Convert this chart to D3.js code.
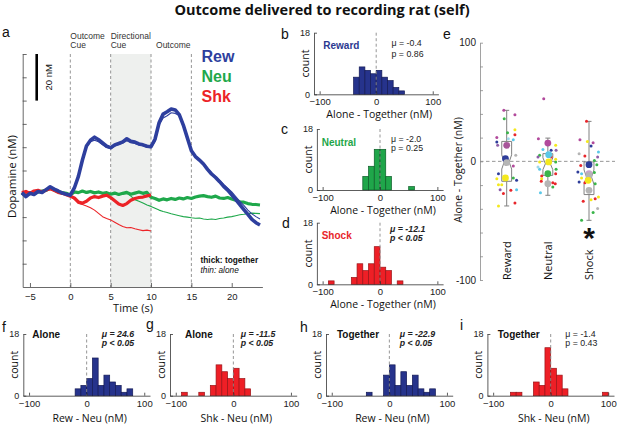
<!DOCTYPE html>
<html><head><meta charset="utf-8">
<script src="https://cdn.jsdelivr.net/npm/d3@7"></script>
<style>body{margin:0;background:#fff}svg{display:block}</style>
</head><body><svg id="c" width="617" height="425"></svg>
<script>
// ================= DATA =================
const titleText = "Outcome delivered to recording rat (self)";
// panel a : time (s) and dopamine (nM)
const timeS = [-6,-5.5,-5,-4.5,-4,-3.5,-3,-2.5,-2,-1.5,-1,-0.5,0,0.5,1,1.5,2,2.5,3,3.5,4,4.5,5,5.5,6,6.5,7,7.5,8,8.5,9,9.5,10,10.5,11,11.5,12,12.5,13,13.5,14,14.5,15,15.5,16,16.5,17,17.5,18,18.5,19,19.5,20,20.5,21,21.5,22,22.5,23,23.5];
const rewTogether = [0.5,-1.2,0.2,-0.3,1.0,0.6,1.8,3.0,2.0,1.2,0.3,-0.2,-0.6,2.5,7.5,14.5,20.5,23.0,24.3,23.2,21.8,20.4,19.8,21.0,21.6,22.3,23.6,22.5,22.2,21.4,21.0,20.4,20.2,23.5,30.5,34.2,35.2,36.4,36.0,34.0,29.5,24.0,18.5,16.0,14.5,12.8,10.5,8.5,7.0,5.2,3.2,1.6,-0.4,-2.5,-4.6,-6.8,-8.8,-11.0,-12.4,-13.4];
const rewAlone    = [0.2,-0.8,0.5,-0.6,0.8,1.0,1.5,2.6,2.2,1.0,0.5,0.0,-0.8,2.0,7.0,13.8,20.0,22.4,23.0,22.3,21.0,20.0,19.3,20.4,21.2,21.8,22.8,22.0,21.6,21.0,20.6,20.0,19.8,22.5,29.5,32.5,33.5,34.8,34.5,33.6,29.0,23.5,18.8,16.4,14.8,13.0,11.0,9.0,7.5,5.8,4.0,2.4,0.8,-1.2,-3.2,-5.0,-7.0,-8.6,-9.8,-10.8];
const neuTogether = [0.3,-0.8,0.5,0.0,0.8,1.2,1.5,2.4,1.6,0.8,0.5,0.2,-0.5,0.8,0.5,1.2,0.6,1.0,0.4,0.8,0.2,0.5,-0.2,0.3,-0.3,0.2,0.6,-0.2,0.3,0.8,0.2,0.6,-1.5,-2.0,-2.8,-2.2,-2.6,-2.0,-2.4,-1.8,-2.2,-1.6,-2.0,-1.4,-1.0,-0.8,-1.2,-1.5,-1.0,-1.8,-2.0,-1.6,-2.2,-2.8,-3.4,-3.6,-4.2,-4.5,-4.6,-4.8];
const neuAlone    = [0.6,-0.5,0.2,0.3,0.5,1.0,1.8,2.0,1.3,1.0,0.2,0.4,-0.3,0.5,0.8,0.9,0.3,0.7,0.6,0.5,0.0,0.3,0.0,0.1,-0.5,0.0,0.2,-1.0,-2.5,-3.2,-4.0,-4.8,-5.4,-6.2,-7.0,-7.6,-8.0,-8.6,-9.0,-9.4,-9.8,-10.0,-10.3,-10.5,-10.4,-10.8,-11.0,-10.8,-11.0,-10.6,-10.4,-10.0,-9.8,-9.4,-9.0,-8.8,-8.5,-8.3,-8.4,-8.5];
const shkTogether = [0.5,1.0,0.2,1.2,1.5,0.8,1.6,2.2,1.5,0.6,0.2,-0.4,-1.0,-1.8,-3.5,-4.0,-3.2,-1.8,-1.2,-1.6,-1.0,-0.6,-1.6,-3.0,-4.4,-5.0,-4.2,-2.8,-2.0,-1.6,-1.4,-0.9,-0.5];
const shkAlone    = [0.8,0.2,0.6,1.0,1.4,1.0,1.2,2.0,1.2,0.8,0.4,0.0,-1.2,-2.4,-4.2,-4.6,-5.2,-6.0,-7.0,-8.4,-9.8,-10.6,-11.2,-12.2,-13.2,-14.0,-14.6,-14.5,-15.0,-15.4,-15.8,-15.6,-16.0];
const eventTimes = [0, 5, 10, 15];
const eventLabels = [["Outcome","Cue"],["Directional","Cue"],["","Outcome"]];
const shadeWindow = [5, 10];
const timeTicks = [-5, 0, 5, 10, 15, 20];
const dopamineTicks = [-30,-20,-10,0,10,20,30,40,50,60];
const legendNames = ["Rew", "Neu", "Shk"];

// histograms (bin width 10 nM): first bin left edge + counts
const binWidth = 10;
const histKeys   = ["b","c","d","f","g","h","i"];
const histStarts = [-40, -30, -90, -20, -90, -40, -70];
const histCounts = [
  [5,8,7,6,7,5,4,2,1],
  [4,7,12,12,4,0,0,0,1],
  [1,0,0,0,2,6,4,6,11,5,4,0,1],
  [2,3,5,11,3,6,4,3,1,2],
  [1,0,0,1,0,3,9,7,5,8,5,2],
  [1,0,0,6,9,3,7,3,6,2,1,2],
  [1,1,0,0,4,3,14,8,6,2,0,0,0,0,0,0,1]
];
const histLabels = ["Reward","Neutral","Shock","Alone","Alone","Together","Together"];
const histMu     = ["μ = -0.4","μ = -2.0","μ = -12.1","μ = 24.6","μ = -11.5","μ = -22.9","μ = -1.4"];
const histP      = ["p = 0.86","p = 0.25","p < 0.05","p < 0.05","p < 0.05","p < 0.05","p = 0.43"];
const histSig    = [false,false,true,true,true,true,false];
const histXTitle = ["Alone - Together (nM)","Alone - Together (nM)","Alone - Together (nM)","Rew - Neu (nM)","Shk - Neu (nM)","Rew - Neu (nM)","Shk - Neu (nM)"];
const histTheme  = ["rew","neu","shk","rew","shk","rew","shk"];
const histXTicks = [-100, 0, 100];
const countTicks = [0, 18];

// panel e
const eCategories = ["Reward","Neutral","Shock"];
const eTicks = [-100,-80,-60,-40,-20,0,20,40,60,80,100];
const eTickLabels = [-100, 0, 100];
const boxQ1  = [-16.8, -11.8, -28.0];
const boxMed = [-0.5, -2.0, -13.2];
const boxQ3  = [16.8, 6.5, -0.5];
const whiskLo = [-37.6, -28.6, -49.7];
const whiskHi = [43.0, 19.6, 33.7];
const notchHalf = [6, 5, 6];
// dots: [category index, jitter (fraction of category spacing), value, colour key]
const eDots = [
 [0,-0.07,43.0,"M"],[0,0.20,39.3,"M"],[0,-0.06,36.0,"G"],[0,0.20,26.7,"Y"],[0,0.02,24.2,"G"],[0,0.20,22.5,"R"],
 [0,-0.24,20.0,"M"],[0,0.04,19.1,"L"],[0,-0.24,16.3,"B"],[0,0.16,18.3,"C"],[0,-0.22,13.5,"P"],[0,0.22,5.1,"K"],
 [0,0.16,-4.0,"M"],[0,-0.20,-10.4,"B"],[0,-0.24,-14.6,"Y"],[0,0.24,-16.0,"B"],[0,0.16,-14.0,"G"],[0,-0.20,-19.7,"Y"],
 [0,-0.12,-19.7,"Y"],[0,-0.16,-23.9,"P"],[0,-0.08,-27.2,"R"],[0,0.10,-24.4,"R"],[0,0.24,-23.9,"C"],[0,-0.20,-37.6,"Y"],[0,0.20,-35.1,"R"],
 [1,-0.10,52.8,"M"],[1,-0.23,19.1,"M"],[1,-0.12,9.9,"C"],[1,0.19,13.5,"Y"],[1,0.20,9.3,"P"],[1,-0.20,5.1,"G"],
 [1,0.08,3.6,"R"],[1,-0.20,-0.6,"Y"],[1,0.19,-0.6,"G"],[1,-0.24,-4.8,"L"],[1,-0.20,-6.7,"C"],[1,0.20,-6.7,"G"],
 [1,-0.15,-12.4,"R"],[1,-0.15,-14.6,"Y"],[1,0.19,-10.4,"R"],[1,-0.16,-16.8,"R"],[1,0.12,-18.0,"R"],[1,0.18,-18.8,"R"],
 [1,0.12,-21.6,"G"],[1,-0.18,-26.4,"C"],[1,-0.24,3.6,"P"],[1,0.08,9.3,"B"],[1,0.19,1.7,"Y"],
 [2,-0.06,33.7,"R"],[2,-0.22,18.3,"M"],[2,-0.04,16.8,"Y"],[2,0.10,15.7,"M"],[2,0.05,12.9,"B"],[2,0.23,7.8,"C"],
 [2,-0.24,6.5,"K"],[2,-0.10,4.5,"R"],[2,0.21,3.6,"P"],[2,0.13,0.8,"G"],[2,0.19,-2.8,"G"],[2,-0.20,-3.4,"R"],
 [2,-0.27,-9.0,"B"],[2,-0.18,-10.4,"C"],[2,0.13,-9.5,"G"],[2,-0.24,-17.4,"B"],[2,-0.18,-14.0,"Y"],[2,0.15,-18.8,"G"],
 [2,-0.10,-18.0,"R"],[2,0.23,-30.0,"Y"],[2,0.15,-31.5,"R"],[2,-0.14,-33.7,"R"],[2,0.05,-32.3,"Y"],[2,0.21,-39.8,"K"],
 [2,0.10,-43.2,"G"],[2,-0.18,-49.7,"G"]
];
const eMeans = [
 [0,0.00,13.5,"M2"],[0,-0.03,2.2,"B"],[0,0.00,-1.1,"K"],[0,-0.03,-14.0,"Y"],
 [1,0.00,15.4,"M"],[1,0.02,5.6,"C"],[1,0.02,-0.5,"Y"],[1,0.00,-10.4,"G"],[1,0.00,-18.8,"K"],
 [2,0.00,-2.8,"B"],[2,0.00,-10.4,"P2"],[2,0.00,-12.0,"K"],[2,-0.02,-16.0,"Y"],[2,0.00,-24.4,"K"]
];

// ================= STYLE / LAYOUT =================
const SANS = "'Liberation Sans', Arial, sans-serif";
const HUM = "'Open Sans', 'Noto Sans', sans-serif";
const col = {rew:"#2e3f9e", neu:"#1fa84b", shk:"#ec2327"};
const barFill = {rew:"#26338c", neu:"#1fa64a", shk:"#ee1f26"};
const barStroke = {rew:"#141a55", neu:"#0c5c28", shk:"#9a1418"};
const labelCol = {rew:"#2b3990", neu:"#1fa64a", shk:"#e8262b"};
const dotCol = {R:"#e8262b",B:"#2e3d9a",G:"#3ab54a",M:"#b24a9c",M2:"#a8569a",Y:"#f4e81c",C:"#5bc8e8",L:"#9fd8ea",P:"#8e5fa8",P2:"#c7a3cc",K:"#b5b5b5"};
const histLayout = {
 b:{l:314,r:438.4,t:32.7,b:94.3,row:0,lx:323.3,ly:49,sx:391.5,sy:[46,57]},
 c:{l:316.9,r:443.1,t:129,b:190,row:0,lx:321.7,ly:145.5,sx:391,sy:[141.5,151]},
 d:{l:316.9,r:443.1,t:222.7,b:284.3,row:0,lx:321.7,ly:238.5,sx:390,sy:[231.5,241]},
 f:{l:23.3,r:150,t:334,b:395.7,row:1,lx:32.3,ly:338,sx:101.7,sy:[336.5,346]},
 g:{l:170,r:296.7,t:334,b:395.7,row:1,lx:185,ly:338,sx:240.7,sy:[336.5,346]},
 h:{l:326,r:452.7,t:334,b:395.7,row:1,lx:337,ly:338,sx:399.7,sy:[336.5,346]},
 i:{l:487.4,r:614,t:334,b:395.7,row:1,lx:497.7,ly:338,sx:565.3,sy:[336.5,346]}
};
const panelLetters = [["a",2,37],["b",281,38.5],["c",281,133.5],["d",282,228],["e",443,39],["f",2,331.5],["g",146,329],["h",300,331.5],["i",460,330]];

const svg = d3.select("#c");
function styleAxis(g, color){
  g.selectAll("path,line").attr("stroke", color).attr("stroke-width", 0.8);
  g.selectAll("text").attr("fill", "#222");
}

// title
svg.append("text").attr("x", 322).attr("y", 15).attr("text-anchor","middle")
  .attr("font-family", HUM).attr("font-weight","bold").attr("font-size", 14.5).attr("fill","#111").text(titleText);

// panel letters
svg.selectAll("text.pl").data(panelLetters).join("text").attr("class","pl")
  .attr("x", d=>d[1]).attr("y", d=>d[2]).attr("font-family", SANS).attr("font-size", 14).attr("fill","#111").text(d=>d[0]);

// ================= PANEL A =================
const ax = d3.scaleLinear().domain([-5.9, 23.8]).range([22.7, 262.4]);
const ay = d3.scaleLinear().domain([-40, 60]).range([287, 54]);
const ga = svg.append("g");
ga.append("rect").attr("x", ax(shadeWindow[0])).attr("width", ax(shadeWindow[1]) - ax(shadeWindow[0]))
  .attr("y", ay(60)).attr("height", ay(-40) - ay(60)).attr("fill", "#eef0ee");
ga.selectAll("line.ev").data(eventTimes).join("line").attr("class","ev")
  .attr("x1", d=>ax(d)).attr("x2", d=>ax(d)).attr("y1", ay(60)).attr("y2", ay(-40))
  .attr("stroke", "#8a8a8a").attr("stroke-width", 0.9).attr("stroke-dasharray", "3,2.5");
eventLabels.forEach((lab, i) => {
  lab.forEach((s, j) => {
    if (!s) return;
    ga.append("text").attr("x", ax(eventTimes[i]) + (i===2 ? 5 : 0)).attr("y", 39 + j*8.5)
      .attr("font-family", SANS).attr("font-size", 8.5).attr("fill", "#333").text(s);
  });
});
const yAxA = ga.append("g").attr("transform", `translate(${ax.range()[0]},0)`)
  .call(d3.axisLeft(ay).tickValues(dopamineTicks).tickSize(-4).tickSizeOuter(0).tickFormat(""));
styleAxis(yAxA, "#444");
const xAxA = ga.append("g").attr("transform", `translate(0,${ay(-40)})`)
  .call(d3.axisBottom(ax).tickValues(timeTicks).tickSize(-4).tickSizeOuter(0).tickPadding(6));
styleAxis(xAxA, "#444");
xAxA.selectAll("text").attr("font-family", SANS).attr("font-size", 9.5);

const lineA = d3.line().x((d,i)=>ax(timeS[i])).y(d=>ay(d));
const traces = [
  [neuTogether, col.neu, 3.2], [neuAlone, col.neu, 1.1],
  [shkTogether, col.shk, 3.2], [shkAlone, col.shk, 1.1],
  [rewTogether, col.rew, 3.6], [rewAlone, col.rew, 1.1]
];
traces.forEach(t => {
  ga.append("path").datum(t[0]).attr("d", lineA).attr("fill","none")
    .attr("stroke", t[1]).attr("stroke-width", t[2]).attr("stroke-linejoin","round");
});
// scale bar 20 nM
ga.append("line").attr("x1", 36.7).attr("x2", 36.7).attr("y1", ay(60)).attr("y2", ay(40))
  .attr("stroke","#000").attr("stroke-width", 2.6);
ga.append("text").attr("transform", `translate(52,${(ay(60)+ay(40))/2}) rotate(-90)`).attr("text-anchor","middle")
  .attr("font-family", SANS).attr("font-size", 9.5).attr("fill","#111").text("20 nM");
// legend
legendNames.forEach((n, i) => {
  ga.append("text").attr("x", 201.5).attr("y", 62.3 + i*20).attr("font-family", SANS).attr("font-weight","bold")
    .attr("font-size", 16).attr("fill", [col.rew, col.neu, col.shk][i]).text(n);
});
ga.append("text").attr("x", 200.5).attr("y", 263).attr("font-family", SANS).attr("font-weight","bold")
  .attr("font-size", 8.3).attr("fill","#111").text("thick: together");
ga.append("text").attr("x", 200.5).attr("y", 273).attr("font-family", SANS).attr("font-style","italic")
  .attr("font-size", 8.3).attr("fill","#111").text("thin: alone");
ga.append("text").attr("transform", `translate(16,${(ay(60)+ay(-40))/2 + 6}) rotate(-90)`).attr("text-anchor","middle")
  .attr("font-family", HUM).attr("font-size", 11.5).attr("fill","#111").text("Dopamine (nM)");
ga.append("text").attr("x", 133).attr("y", 312).attr("text-anchor","middle")
  .attr("font-family", HUM).attr("font-size", 11).attr("fill","#111").text("Time (s)");

// ================= HISTOGRAMS =================
histKeys.forEach((k, hi) => {
  const L = histLayout[k];
  const theme = histTheme[hi];
  const x = d3.scaleLinear().domain([-110, 110]).range([L.l, L.r]);
  const y = d3.scaleLinear().domain([0, 18]).range([L.b, L.t]);
  const g = svg.append("g");
  const bins = histCounts[hi].map((c, i) => ({x0: histStarts[hi] + i*binWidth, c}));
  g.selectAll("rect").data(bins.filter(d=>d.c>0)).join("rect")
    .attr("x", d=>x(d.x0)).attr("width", d=>x(d.x0+binWidth)-x(d.x0))
    .attr("y", d=>y(d.c)).attr("height", d=>y(0)-y(d.c))
    .attr("fill", barFill[theme]).attr("stroke", barStroke[theme]).attr("stroke-width", 0.7);
  g.append("line").attr("x1", x(0)).attr("x2", x(0)).attr("y1", y(18)).attr("y2", y(0))
    .attr("stroke", "#8a8a8a").attr("stroke-width", 0.9).attr("stroke-dasharray", "3,2.5");
  const yA = g.append("g").attr("transform", `translate(${L.l},0)`)
    .call(d3.axisLeft(y).tickValues(countTicks).tickSize(-3).tickSizeOuter(0).tickPadding(4));
  styleAxis(yA, "#333");
  yA.selectAll("text").attr("font-family", SANS).attr("font-size", 9);
  const xA = g.append("g").attr("transform", `translate(0,${L.b})`)
    .call(d3.axisBottom(x).tickValues(histXTicks).tickSize(-3).tickSizeOuter(0).tickPadding(L.row ? 5 : 4));
  styleAxis(xA, "#333");
  xA.selectAll("text").attr("font-family", SANS).attr("font-size", 9.5);
  g.append("text").attr("transform", `translate(${L.l-5},${(L.t+L.b)/2}) rotate(-90)`).attr("text-anchor","middle")
    .attr("font-family", HUM).attr("font-size", 10.5).attr("fill","#111").text("count");
  g.append("text").attr("x", (L.l+L.r)/2 + 3).attr("y", L.b + (L.row ? 26 : 23.5)).attr("text-anchor","middle")
    .attr("font-family", HUM).attr("font-size", 10.5).attr("fill","#111").text(histXTitle[hi]);
  g.append("text").attr("x", L.lx).attr("y", L.ly).attr("font-family", SANS).attr("font-weight","bold")
    .attr("font-size", 10).attr("fill", L.row ? "#111" : labelCol[theme]).text(histLabels[hi]);
  [histMu[hi], histP[hi]].forEach((s, j) => {
    g.append("text").attr("x", L.sx).attr("y", L.sy[j]).attr("font-family", SANS)
      .attr("font-size", 8.8).attr("fill", "#222")
      .attr("font-weight", histSig[hi] ? "bold" : "normal").attr("font-style", histSig[hi] ? "italic" : "normal")
      .text(s);
  });
});

// ================= PANEL E =================
const ey = d3.scaleLinear().domain([-100, 100]).range([280, 42.7]);
const ex = d3.scalePoint().domain(eCategories).range([506.7, 589]);
const step = ex.step();
const ge = svg.append("g");
ge.append("line").attr("x1", 480).attr("x2", 615).attr("y1", ey(0)).attr("y2", ey(0))
  .attr("stroke", "#8a8a8a").attr("stroke-width", 0.9).attr("stroke-dasharray", "3.5,2.5");
const eA = ge.append("g").attr("transform", "translate(480,0)")
  .call(d3.axisLeft(ey).tickValues(eTicks).tickSize(-3).tickSizeOuter(0).tickPadding(4)
    .tickFormat(d => eTickLabels.includes(d) ? d : ""));
styleAxis(eA, "#8a8a8a");
eA.selectAll("text").attr("font-family", SANS).attr("font-size", 10);
ge.append("text").attr("transform", `translate(462,170) rotate(-90)`).attr("text-anchor","middle")
  .attr("font-family", HUM).attr("font-size", 10.5).attr("fill","#111").text("Alone - Together (nM)");
eCategories.forEach((c, i) => {
  ge.append("text").attr("transform", `translate(${ex(c)+4},280) rotate(-90)`).attr("text-anchor","start")
    .attr("font-family", HUM).attr("font-size", 11).attr("fill","#111").text(c);
});
// boxes
const bh = 0.12 * step, nIn = 0.06 * step;
eCategories.forEach((c, i) => {
  const cx = ex(c);
  const pts = [
    [cx-bh, ey(boxQ3[i])],[cx+bh, ey(boxQ3[i])],[cx+bh, ey(boxMed[i]+notchHalf[i])],[cx+bh-nIn, ey(boxMed[i])],
    [cx+bh, ey(boxMed[i]-notchHalf[i])],[cx+bh, ey(boxQ1[i])],[cx-bh, ey(boxQ1[i])],
    [cx-bh, ey(boxMed[i]-notchHalf[i])],[cx-bh+nIn, ey(boxMed[i])],[cx-bh, ey(boxMed[i]+notchHalf[i])]
  ];
  ge.append("path").attr("d", d3.line()(pts) + "Z").attr("fill","none").attr("stroke","#808080").attr("stroke-width", 1);
  ge.append("line").attr("x1", cx-bh+nIn).attr("x2", cx+bh-nIn).attr("y1", ey(boxMed[i])).attr("y2", ey(boxMed[i]))
    .attr("stroke","#808080").attr("stroke-width", 1);
  [[boxQ3[i], whiskHi[i]], [boxQ1[i], whiskLo[i]]].forEach(w => {
    ge.append("line").attr("x1", cx).attr("x2", cx).attr("y1", ey(w[0])).attr("y2", ey(w[1]))
      .attr("stroke","#808080").attr("stroke-width", 1);
    ge.append("line").attr("x1", cx-2.5).attr("x2", cx+2.5).attr("y1", ey(w[1])).attr("y2", ey(w[1]))
      .attr("stroke","#808080").attr("stroke-width", 1);
  });
});
ge.selectAll("circle.sd").data(eDots).join("circle").attr("class","sd")
  .attr("cx", d => ex(eCategories[d[0]]) + d[1]*step).attr("cy", d => ey(d[2])).attr("r", 1.5)
  .attr("fill", d => dotCol[d[3]]);
ge.selectAll("circle.bd").data(eMeans).join("circle").attr("class","bd")
  .attr("cx", d => ex(eCategories[d[0]]) + d[1]*step).attr("cy", d => ey(d[2])).attr("r", 3.4)
  .attr("fill", d => dotCol[d[3]]);
ge.append("text").attr("x", ex("Shock")).attr("y", 248).attr("text-anchor","middle")
  .attr("font-family", SANS).attr("font-weight","bold").attr("font-size", 30).attr("fill","#111").text("*");
</script></body></html>
